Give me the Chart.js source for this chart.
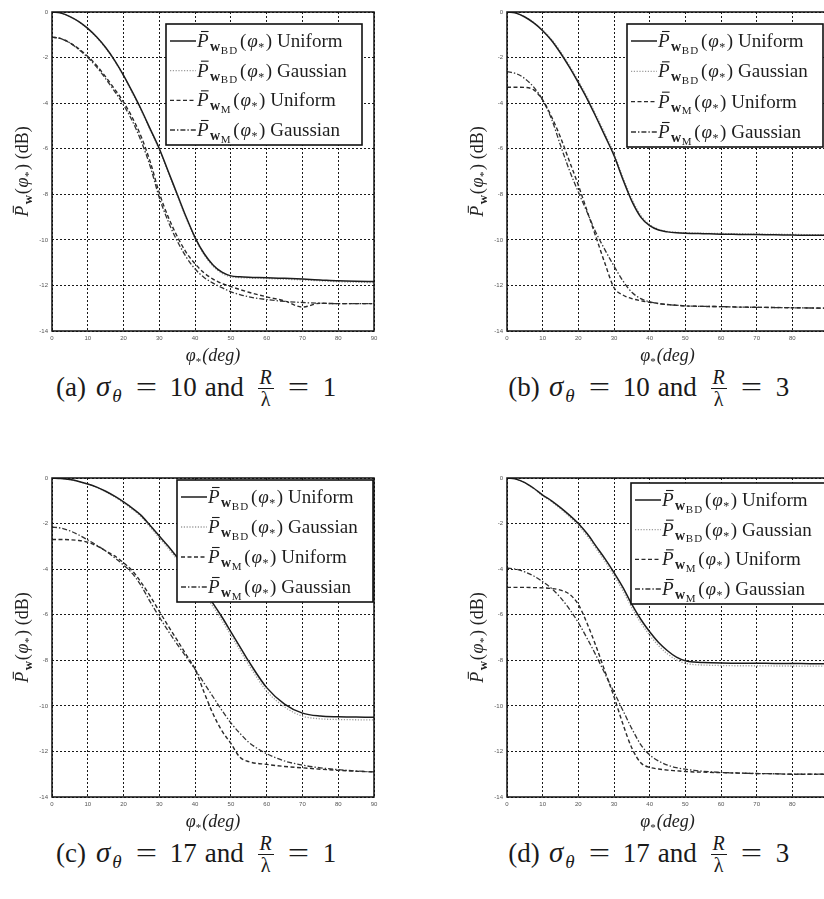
<!DOCTYPE html>
<html>
<head>
<meta charset="utf-8">
<script src="https://cdn.jsdelivr.net/npm/chart.js@4.4.1/dist/chart.umd.min.js"></script>
<style>
  html, body { margin: 0; padding: 0; background: #fff; width: 824px; height: 899px; overflow: hidden; }
  canvas { position: absolute; }
  .cap { position: absolute; font-family: "Liberation Serif", "DejaVu Serif", serif; font-size: 27px; color: #1a1a1a; white-space: nowrap; line-height: 30px; }
  .cap .t { display: inline-block; text-align: center; vertical-align: baseline; }
  .cap .s { text-align: left; font-style: italic; font-size: 29px; }
  .cap .s sub { font-size: 19px; vertical-align: -6px; margin-left: 2px; }
  .cap .eq { width: 21px; transform: scaleX(1.4); }
  .frac { display: inline-block; vertical-align: -10px; text-align: center; font-size: 20px; line-height: 17px; }
  .frac .num { display: block; font-style: italic; border-bottom: 1.4px solid #1a1a1a; padding: 0 1px 2px; }
  .frac .den { display: block; padding-top: 2px; }
</style>
</head>
<body>
<div class="cap" style="left:55px;top:369px"><span class="t" style="width:32px">(a)</span><span class="t s" style="margin-left:9px">σ<sub>θ</sub></span><span class="t eq" style="margin-left:14px">=</span><span class="t" style="margin-left:13px;width:26px">10</span><span class="t" style="margin-left:9px;width:39px">and</span><span class="frac" style="margin-left:14px;width:16px"><span class="num">R</span><span class="den">λ</span></span><span class="t eq" style="margin-left:14px">=</span><span class="t" style="margin-left:14px;width:13px">1</span></div>
<div class="cap" style="left:508px;top:369px"><span class="t" style="width:32px">(b)</span><span class="t s" style="margin-left:9px">σ<sub>θ</sub></span><span class="t eq" style="margin-left:14px">=</span><span class="t" style="margin-left:13px;width:26px">10</span><span class="t" style="margin-left:9px;width:39px">and</span><span class="frac" style="margin-left:14px;width:16px"><span class="num">R</span><span class="den">λ</span></span><span class="t eq" style="margin-left:14px">=</span><span class="t" style="margin-left:14px;width:13px">3</span></div>
<div class="cap" style="left:55px;top:835px"><span class="t" style="width:32px">(c)</span><span class="t s" style="margin-left:9px">σ<sub>θ</sub></span><span class="t eq" style="margin-left:14px">=</span><span class="t" style="margin-left:13px;width:26px">17</span><span class="t" style="margin-left:9px;width:39px">and</span><span class="frac" style="margin-left:14px;width:16px"><span class="num">R</span><span class="den">λ</span></span><span class="t eq" style="margin-left:14px">=</span><span class="t" style="margin-left:14px;width:13px">1</span></div>
<div class="cap" style="left:508px;top:835px"><span class="t" style="width:32px">(d)</span><span class="t s" style="margin-left:9px">σ<sub>θ</sub></span><span class="t eq" style="margin-left:14px">=</span><span class="t" style="margin-left:13px;width:26px">17</span><span class="t" style="margin-left:9px;width:39px">and</span><span class="frac" style="margin-left:14px;width:16px"><span class="num">R</span><span class="den">λ</span></span><span class="t eq" style="margin-left:14px">=</span><span class="t" style="margin-left:14px;width:13px">3</span></div>
<script>
const SERIF = '"Liberation Serif", "DejaVu Serif", serif';

// steering angle phi* in degrees (shared sample points)
const phi = [0, 2.5, 5, 7.5, 10, 12.5, 15, 17.5, 20, 22.5, 25, 27.5, 30, 32.5, 35, 37.5, 40, 42.5, 45, 47.5, 50, 52.5, 55, 60, 65, 70, 75, 80, 85, 90];

// (a) sigma = 10, R/lambda = 1
const aBdUniform = [0, -0.05, -0.2, -0.42, -0.72, -1.1, -1.56, -2.12, -2.78, -3.52, -4.3, -5.15, -6.0, -7.0, -8.0, -9.0, -9.9, -10.6, -11.1, -11.42, -11.58, -11.62, -11.64, -11.66, -11.69, -11.72, -11.76, -11.8, -11.82, -11.83];
const aBdGauss = [0, -0.05, -0.2, -0.43, -0.74, -1.12, -1.59, -2.15, -2.81, -3.57, -4.35, -5.2, -6.05, -7.05, -8.05, -9.05, -9.95, -10.65, -11.15, -11.47, -11.62, -11.66, -11.68, -11.7, -11.73, -11.76, -11.8, -11.84, -11.86, -11.88];
const aMUniform = [-1.1, -1.17, -1.35, -1.62, -1.95, -2.35, -2.85, -3.38, -3.95, -4.65, -5.5, -6.6, -7.95, -9.0, -9.85, -10.55, -11.05, -11.45, -11.72, -11.92, -12.05, -12.18, -12.3, -12.5, -12.68, -12.95, -12.78, -12.8, -12.8, -12.8];
const aMGauss = [-1.1, -1.17, -1.36, -1.65, -2.0, -2.42, -2.93, -3.48, -4.08, -4.8, -5.7, -6.8, -8.15, -9.2, -10.05, -10.75, -11.28, -11.65, -11.9, -12.1, -12.28, -12.4, -12.5, -12.62, -12.7, -12.75, -12.78, -12.8, -12.8, -12.8];

// (b) sigma = 10, R/lambda = 3
const bBdUniform = [0, -0.05, -0.22, -0.48, -0.82, -1.25, -1.8, -2.42, -3.1, -3.82, -4.62, -5.45, -6.3, -7.35, -8.3, -9.0, -9.38, -9.57, -9.65, -9.69, -9.71, -9.72, -9.73, -9.75, -9.76, -9.77, -9.78, -9.79, -9.8, -9.8];
const bBdGauss = [0, -0.05, -0.21, -0.46, -0.79, -1.2, -1.74, -2.35, -3.02, -3.74, -4.53, -5.35, -6.2, -7.25, -8.2, -8.92, -9.33, -9.54, -9.63, -9.67, -9.69, -9.7, -9.71, -9.72, -9.73, -9.74, -9.75, -9.76, -9.77, -9.77];
const bMUniform = [-3.3, -3.3, -3.31, -3.42, -3.86, -4.6, -5.5, -6.55, -7.6, -8.75, -9.9, -11.05, -12.1, -12.42, -12.58, -12.67, -12.74, -12.79, -12.84, -12.87, -12.9, -12.91, -12.92, -12.93, -12.95, -12.96, -12.97, -12.98, -12.99, -13.0];
const bMGauss = [-2.62, -2.7, -2.92, -3.3, -3.86, -4.7, -5.85, -6.95, -7.9, -8.8, -9.7, -10.45, -11.15, -11.8, -12.3, -12.58, -12.72, -12.8, -12.84, -12.87, -12.9, -12.91, -12.92, -12.93, -12.95, -12.96, -12.97, -12.98, -12.99, -13.0];

// (c) sigma = 17, R/lambda = 1
const cBdUniform = [0, -0.02, -0.07, -0.15, -0.26, -0.4, -0.58, -0.8, -1.05, -1.33, -1.65, -2.1, -2.55, -3.0, -3.48, -3.95, -4.45, -4.95, -5.5, -6.1, -6.75, -7.4, -8.05, -9.2, -9.92, -10.32, -10.45, -10.48, -10.49, -10.5];
const cBdGauss = [0, -0.02, -0.07, -0.16, -0.27, -0.42, -0.6, -0.83, -1.09, -1.38, -1.71, -2.17, -2.63, -3.09, -3.58, -4.06, -4.57, -5.08, -5.64, -6.25, -6.9, -7.55, -8.2, -9.35, -10.05, -10.45, -10.57, -10.6, -10.61, -10.62];
const cMUniform = [-2.7, -2.7, -2.71, -2.74, -2.82, -2.98, -3.2, -3.42, -3.72, -4.08, -4.6, -5.2, -5.85, -6.5, -7.12, -7.75, -8.4, -9.4, -10.35, -11.1, -11.65, -12.25, -12.45, -12.57, -12.66, -12.72, -12.78, -12.83, -12.87, -12.9];
const cMGauss = [-2.15, -2.2, -2.32, -2.5, -2.72, -2.95, -3.2, -3.5, -3.82, -4.2, -4.75, -5.45, -6.1, -6.72, -7.3, -7.85, -8.4, -9.0, -9.6, -10.2, -10.75, -11.2, -11.6, -12.1, -12.42, -12.6, -12.72, -12.8, -12.86, -12.9];

// (d) sigma = 17, R/lambda = 3
const dBdUniform = [0, -0.05, -0.2, -0.45, -0.75, -1.0, -1.3, -1.63, -2.0, -2.45, -3.0, -3.55, -4.15, -4.8, -5.55, -6.2, -6.75, -7.22, -7.58, -7.86, -8.02, -8.08, -8.1, -8.12, -8.13, -8.13, -8.14, -8.14, -8.15, -8.15];
const dBdGauss = [0, -0.05, -0.21, -0.47, -0.78, -1.04, -1.35, -1.7, -2.08, -2.55, -3.1, -3.67, -4.28, -4.95, -5.7, -6.35, -6.9, -7.36, -7.72, -7.98, -8.13, -8.19, -8.21, -8.23, -8.24, -8.24, -8.25, -8.25, -8.26, -8.26];
const dMUniform = [-4.8, -4.8, -4.8, -4.81, -4.82, -4.85, -4.92, -5.1, -5.55, -6.4, -7.4, -8.5, -9.6, -10.8, -11.85, -12.5, -12.7, -12.77, -12.82, -12.85, -12.88, -12.9, -12.91, -12.93, -12.95, -12.97, -12.98, -13.0, -13.0, -13.0];
const dMGauss = [-3.95, -4.0, -4.12, -4.3, -4.55, -4.85, -5.25, -5.75, -6.35, -7.05, -7.8, -8.6, -9.4, -10.2, -11.0, -11.7, -12.15, -12.42, -12.6, -12.71, -12.78, -12.83, -12.87, -12.92, -12.95, -12.97, -12.98, -13.0, -13.0, -13.0];

// legend entries: beamformer subscript and angular distribution
const legendSubs = ['BD', 'BD', 'M', 'M'];
const legendKinds = ['Uniform', 'Gaussian', 'Uniform', 'Gaussian'];

const lineStyles = [
  { color: '#1c1c1c', width: 1.5, dash: [], order: 0 },
  { color: '#9c9c9c', width: 1.3, dash: [1.2, 1.6], order: 1 },
  { color: '#2a2a2a', width: 1.4, dash: [4, 2.5], order: 2 },
  { color: '#333', width: 1.3, dash: [5, 2, 1.4, 2], order: 3 }
];

// plot boxes in page pixels [left, top, right, bottom]; legend box relative to plot [dx, dy, w, h]
const panels = [
  { plot: [52, 12, 374, 331], legend: [114, 12, 196, 121], series: [aBdUniform, aBdGauss, aMUniform, aMGauss] },
  { plot: [507, 12, 828, 331], legend: [120, 12, 196, 123], series: [bBdUniform, bBdGauss, bMUniform, bMGauss] },
  { plot: [52, 478, 374, 797], legend: [125, 2, 196, 122], series: [cBdUniform, cBdGauss, cMUniform, cMGauss] },
  { plot: [507, 478, 828, 797], legend: [124, 5, 196, 121], series: [dBdUniform, dBdGauss, dMUniform, dMGauss] }
];

function runsWidth(ctx, runs) {
  let w = 0;
  for (const r of runs) {
    ctx.font = r.f;
    if (r.gap) {
      for (const ch of r.t) w += ctx.measureText(ch).width + r.gap;
    } else {
      w += ctx.measureText(r.t).width;
    }
    w += r.sp || 0;
  }
  return w;
}

function drawRuns(ctx, runs, x, y) {
  for (const r of runs) {
    ctx.font = r.f;
    const yy = y + (r.dy || 0);
    let w;
    if (r.gap) {
      let cx = x;
      for (const ch of r.t) {
        ctx.fillText(ch, cx, yy);
        cx += ctx.measureText(ch).width + r.gap;
      }
      w = cx - x;
    } else {
      ctx.fillText(r.t, x, yy);
      w = ctx.measureText(r.t).width;
    }
    if (r.bar) {
      ctx.beginPath();
      ctx.lineWidth = 1.1;
      ctx.moveTo(x + r.bar[0], yy - r.bar[2]);
      ctx.lineTo(x + w + r.bar[1], yy - r.bar[2]);
      ctx.stroke();
    }
    x += w + (r.sp || 0);
  }
}

// P-bar_{w_sub}(phi_*) followed by a word
function powerLabel(sub, tail, size) {
  const k = size / 19;
  const runs = [
    { t: 'P', f: `italic ${size}px ${SERIF}`, bar: [4 * k, 0, 15.5 * k], sp: 1.5 * k },
    { t: 'w', f: `bold ${Math.round(14 * k)}px ${SERIF}`, dy: 4 * k, sp: 0.5 * k }
  ];
  if (sub) runs.push({ t: sub, f: `${Math.round(11 * k)}px ${SERIF}`, dy: 6.5 * k, gap: 1.2 * k, sp: 1.5 * k });
  runs.push(
    { t: '(', f: `${size}px ${SERIF}`, sp: 1 * k },
    { t: 'φ', f: `italic ${size}px ${SERIF}`, sp: 0.5 * k },
    { t: '*', f: `${Math.round(12 * k)}px ${SERIF}`, dy: 4 * k, sp: 1.5 * k },
    { t: ')', f: `${size}px ${SERIF}`, sp: 5 * k },
    { t: tail, f: `${size}px ${SERIF}` }
  );
  return runs;
}

const decorPlugin = {
  id: 'decor',
  afterDraw(chart, args, opts) {
    const { ctx, chartArea: a } = chart;
    ctx.save();
    // axes box
    ctx.strokeStyle = '#111';
    ctx.lineWidth = 1.5;
    ctx.setLineDash([]);
    ctx.strokeRect(a.left, a.top, a.right - a.left, a.bottom - a.top);

    // legend
    const [dx, dy, lw, lh] = opts.legend;
    const bx = a.left + dx, by = a.top + dy;
    ctx.fillStyle = '#fff';
    ctx.fillRect(bx, by, lw, lh);
    ctx.strokeStyle = '#111';
    ctx.lineWidth = 1.6;
    ctx.strokeRect(bx, by, lw, lh);
    const rowH = (lh - 32) / 3;
    chart.data.datasets.forEach((ds, i) => {
      const cy = by + 17 + i * rowH;
      ctx.beginPath();
      ctx.strokeStyle = ds.borderColor;
      ctx.lineWidth = ds.borderWidth;
      ctx.setLineDash(ds.borderDash);
      ctx.moveTo(bx + 4, cy);
      ctx.lineTo(bx + 30, cy);
      ctx.stroke();
      ctx.setLineDash([]);
      ctx.fillStyle = '#1e1e1e';
      ctx.strokeStyle = '#1e1e1e';
      ctx.textBaseline = 'alphabetic';
      drawRuns(ctx, powerLabel(legendSubs[i], legendKinds[i], 19), bx + 31, cy + 6);
    });

    // axis titles
    ctx.fillStyle = '#222';
    ctx.strokeStyle = '#222';
    const xt = [
      { t: 'φ', f: `italic 18px ${SERIF}` },
      { t: '*', f: `11px ${SERIF}`, dy: 4, sp: 1 },
      { t: '(deg)', f: `italic 18px ${SERIF}` }
    ];
    const xw = runsWidth(ctx, xt);
    drawRuns(ctx, xt, (a.left + a.right) / 2 - xw / 2, a.bottom + 30);

    const yt = powerLabel(null, '(dB)', 18);
    const yw = runsWidth(ctx, yt);
    ctx.translate(a.left - 24, (a.top + a.bottom) / 2);
    ctx.rotate(-Math.PI / 2);
    drawRuns(ctx, yt, -yw / 2, 0);
    ctx.restore();
  }
};

const tickFont = { family: '"Liberation Sans", Arial, sans-serif', size: 6 };
const gridStyle = { color: 'rgba(0,0,0,0.9)', lineWidth: 1, drawTicks: false };

panels.forEach((p) => {
  const [l, t, r, b] = p.plot;
  const cv = document.createElement('canvas');
  cv.width = (r - l) + 52 + 40;
  cv.height = (b - t) + 12 + 40;
  cv.style.left = (l - 52) + 'px';
  cv.style.top = (t - 12) + 'px';
  document.body.appendChild(cv);

  new Chart(cv, {
    type: 'line',
    data: {
      datasets: p.series.map((vals, i) => ({
        label: legendSubs[i] + ' ' + legendKinds[i],
        data: phi.map((x, k) => ({ x: x, y: vals[k] })),
        borderColor: lineStyles[i].color,
        borderWidth: lineStyles[i].width,
        borderDash: lineStyles[i].dash,
        order: lineStyles[i].order,
        pointRadius: 0,
        fill: false,
        cubicInterpolationMode: 'monotone'
      }))
    },
    options: {
      responsive: false,
      animation: false,
      events: [],
      layout: { padding: { left: 0, top: 12, right: 40, bottom: 20 } },
      plugins: {
        legend: { display: false },
        tooltip: { enabled: false },
        decor: { legend: p.legend }
      },
      scales: {
        x: {
          type: 'linear', min: 0, max: 90,
          ticks: { stepSize: 10, font: tickFont, color: '#555', padding: 4, maxRotation: 0, autoSkip: false },
          grid: gridStyle,
          border: { display: false, dash: [2, 2] },
          afterFit(s) { s.height = 20; }
        },
        y: {
          min: -14, max: 0,
          ticks: { stepSize: 2, font: tickFont, color: '#555', padding: 4 },
          grid: gridStyle,
          border: { display: false, dash: [2, 2] },
          afterFit(s) { s.width = 52; }
        }
      }
    },
    plugins: [decorPlugin]
  });
});
</script>
</body>
</html>
